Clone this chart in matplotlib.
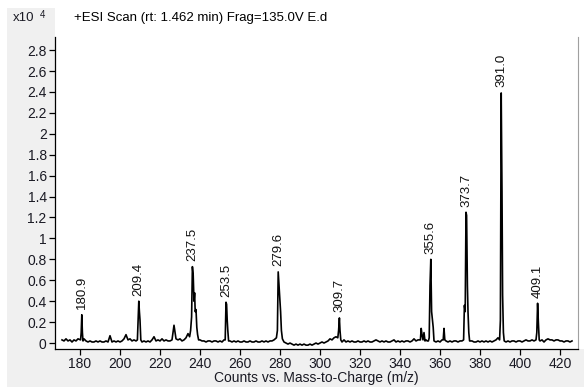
import numpy as np
import matplotlib
matplotlib.use("Agg")
import matplotlib.pyplot as plt
from matplotlib.patches import Rectangle

plt.rcParams['font.family'] = ['Liberation Sans', 'DejaVu Sans']

# baseline noise, one reading per m/z unit from 171 to 426 (x10^4 counts)
base_start = 171
base_vals = [
    0.03, 0.02, 0.04, 0.02, 0.03, 0.01, 0.03, 0.02, 0.04, 0.03,
    0.03, 0.04, 0.02, 0.01, 0.02, 0.01, 0.01, 0.02, 0.01, 0.02,
    0.01, 0.01, 0.02, 0.01, 0.07, 0.01, 0.02, 0.01, 0.02, 0.01,
    0.02, 0.04, 0.08, 0.03, 0.04, 0.02, 0.03, 0.02, 0.03, 0.02,
    0.01, 0.02, 0.01, 0.02, 0.01, 0.03, 0.06, 0.02, 0.03, 0.02,
    0.04, 0.02, 0.03, 0.02, 0.02, 0.03, 0.17, 0.04, 0.03, 0.04,
    0.02, 0.03, 0.05, 0.09, 0.06, 0.05, 0.04, 0.03, 0.03, 0.03,
    0.02, 0.02, 0.01, 0.02, 0.02, 0.01, 0.02, 0.02, 0.01, 0.02,
    0.01, 0.03, 0.03, 0.03, 0.02, 0.01, 0.02, 0.01, 0.02, 0.01,
    0.01, 0.02, 0.01, 0.01, 0.02, 0.01, 0.01, 0.02, 0.01, 0.01,
    0.02, 0.01, 0.02, 0.01, 0.02, 0.02, 0.03, 0.05, 0.05, 0.05,
    0.04, 0.01, 0.00, -0.01, 0.00, -0.01, -0.02, -0.01, -0.02, -0.01,
    -0.02, -0.01, -0.02, -0.02, -0.01, -0.02, -0.01, 0.00, -0.01, 0.00,
    0.01, 0.00, 0.01, 0.02, 0.04, 0.03, 0.05, 0.06, 0.05, 0.03,
    0.01, 0.03, 0.01, 0.02, 0.01, 0.02, 0.01, 0.01, 0.02, 0.01,
    0.01, 0.02, 0.01, 0.02, 0.01, 0.01, 0.02, 0.03, 0.02, 0.01,
    0.02, 0.01, 0.02, 0.01, 0.01, 0.02, 0.03, 0.01, 0.02, 0.01,
    0.02, 0.01, 0.02, 0.02, 0.01, 0.02, 0.04, 0.02, 0.03, 0.02,
    0.03, 0.02, 0.02, 0.03, 0.03, 0.03, 0.02, 0.01, 0.02, 0.01,
    0.03, 0.03, 0.02, 0.01, 0.02, 0.01, 0.02, 0.02, 0.01, 0.02,
    0.02, 0.03, 0.03, 0.03, 0.03, 0.02, 0.01, 0.01, 0.02, 0.01,
    0.02, 0.01, 0.02, 0.01, 0.02, 0.01, 0.02, 0.03, 0.05, 0.03,
    0.03, 0.03, 0.01, 0.02, 0.01, 0.02, 0.02, 0.01, 0.02, 0.02,
    0.01, 0.02, 0.03, 0.02, 0.02, 0.03, 0.02, 0.03, 0.03, 0.02,
    0.03, 0.01, 0.03, 0.04, 0.03, 0.03, 0.02, 0.03, 0.03, 0.02,
    0.02, 0.01, 0.02, 0.02, 0.01, 0.02,
]

# peak clusters: (m/z points, intensities)
peak_mz = [
    [180.3, 180.6, 180.9, 181.2, 181.5],
    [208.7, 209.0, 209.4, 209.7, 210.0, 210.4],
    [234.8, 235.3, 235.8, 236.2, 236.6, 237.0, 237.3, 237.6, 238.0, 238.4, 238.8, 239.3],
    [252.6, 253.0, 253.3, 253.6, 253.9, 254.3],
    [278.2, 278.7, 279.1, 279.5, 279.9, 280.3, 280.7, 281.2],
    [308.9, 309.3, 309.7, 310.0, 310.4],
    [350.2, 350.6, 351.0, 351.5, 352.0, 352.5, 353.0, 353.6, 354.2, 354.6, 355.0, 355.4, 355.8, 356.2, 356.6, 357.0],
    [361.6, 362.0, 362.4],
    [371.8, 372.2, 372.6, 373.0, 373.3, 373.7, 374.0, 374.4, 374.8],
    [389.8, 390.2, 390.6, 391.0, 391.3, 391.7, 392.1],
    [408.0, 408.4, 408.8, 409.2, 409.6],
]
peak_val = [
    [0.03, 0.10, 0.27, 0.10, 0.02],
    [0.03, 0.20, 0.40, 0.30, 0.22, 0.03],
    [0.06, 0.12, 0.25, 0.73, 0.65, 0.40, 0.48, 0.30, 0.32, 0.15, 0.08, 0.03],
    [0.03, 0.39, 0.37, 0.22, 0.12, 0.02],
    [0.05, 0.12, 0.68, 0.55, 0.42, 0.30, 0.12, 0.04],
    [0.05, 0.12, 0.24, 0.12, 0.03],
    [0.03, 0.14, 0.08, 0.03, 0.10, 0.02, 0.03, 0.02, 0.02, 0.05, 0.55, 0.80, 0.30, 0.22, 0.15, 0.02],
    [0.03, 0.14, 0.03],
    [0.03, 0.36, 0.30, 1.25, 1.22, 0.55, 0.30, 0.10, 0.02],
    [0.03, 0.22, 2.39, 1.45, 0.46, 0.10, 0.02],
    [0.03, 0.10, 0.38, 0.19, 0.03],
]
peak_labels = ["180.9", "209.4", "237.5", "253.5", "279.6", "309.7",
               "355.6", None, "373.7", "391.0", "409.1"]

x_ticks = [180, 200, 220, 240, 260, 280, 300, 320, 340, 360, 380, 400, 420]
y_ticks = [0, 0.2, 0.4, 0.6, 0.8, 1, 1.2, 1.4, 1.6, 1.8, 2, 2.2, 2.4, 2.6, 2.8]
y_tick_labels = ["0", "0.2", "0.4", "0.6", "0.8", "1", "1.2", "1.4", "1.6",
                 "1.8", "2", "2.2", "2.4", "2.6", "2.8"]

# merge baseline and peaks into one trace
base_mz = np.arange(base_start, base_start + len(base_vals))
keep = np.ones(len(base_mz), dtype=bool)
for pm in peak_mz:
    keep &= ~((base_mz >= pm[0] - 0.3) & (base_mz <= pm[-1] + 0.3))
trace_mz = np.concatenate([base_mz[keep]] + [np.array(p) for p in peak_mz])
trace_val = np.concatenate([np.array(base_vals)[keep]] + [np.array(v) for v in peak_val])
order = np.argsort(trace_mz)
trace_mz = trace_mz[order]
trace_val = trace_val[order]

W, H = 584, 387
fig = plt.figure(figsize=(W / 100, H / 100), dpi=100, facecolor='white')

gray = '#f0f0f0'
txt = '#1a1a24'
# gray panels left and below the plot (pixel coords -> figure fraction)
fig.patches.append(Rectangle((7 / W, 0), (55 - 7) / W, (H - 8) / H,
                             transform=fig.transFigure, facecolor=gray, edgecolor='none', zorder=-5))
fig.patches.append(Rectangle((55 / W, 0), (W - 55) / W, (H - 349) / H,
                             transform=fig.transFigure, facecolor=gray, edgecolor='none', zorder=-5))

ax = fig.add_axes([55 / W, (H - 349) / H, (578 - 55) / W, (349 - 37) / H])
ax.set_facecolor('white')
ax.plot(trace_mz, trace_val, color='black', lw=1.2)

for pm, pv, lab in zip(peak_mz, peak_val, peak_labels):
    if lab is None:
        continue
    i = int(np.argmax(pv))
    ax.annotate(lab, (pm[i], pv[i]), xytext=(0, 4), textcoords='offset points',
                rotation=90, ha='center', va='bottom', fontsize=9.5, color='#111111')

ax.set_xlim(167.5, 429)
ax.set_ylim(-0.057, 2.925)
ax.set_xticks(x_ticks)
ax.set_yticks(y_ticks)
ax.set_yticklabels(y_tick_labels)
ax.tick_params(axis='both', labelsize=10, colors='black', labelcolor=txt,
               length=4, width=0.9, direction='out', pad=2)
ax.spines['top'].set_visible(False)
ax.spines['right'].set_color('#a0a0a0')
ax.spines['left'].set_linewidth(0.9)
ax.spines['bottom'].set_linewidth(0.9)

ax.set_xlabel("Counts vs. Mass-to-Charge (m/z)", fontsize=10, labelpad=0, color=txt)

fig.text(13 / W, 1 - 18 / H, "x10", fontsize=9.5, va='center', ha='left', color=txt)
fig.text(40 / W, 1 - 15 / H, "4", fontsize=7, va='center', ha='left', color=txt)
fig.text(74 / W, 1 - 18 / H, "+ESI Scan (rt: 1.462 min) Frag=135.0V E.d",
         fontsize=9.5, va='center', ha='left', color='black')

fig.savefig("out.png", dpi=100, facecolor=fig.get_facecolor())
